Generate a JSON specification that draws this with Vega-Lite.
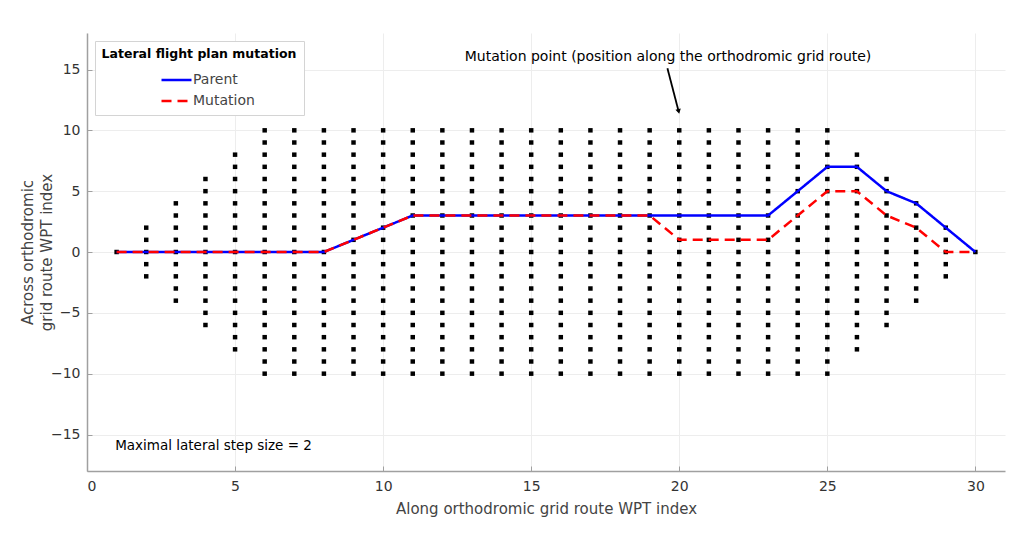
{
  "$schema": "https://vega.github.io/schema/vega-lite/v6.json",
  "width": 918,
  "height": 438,
  "autosize": {"type": "none"},
  "padding": {"left": 87, "top": 33, "right": 7, "bottom": 72},
  "background": "white",
  "config": {
    "view": {"stroke": null},
    "font": "DejaVu Sans",
    "axis": {
      "labelFont": "DejaVu Sans", "titleFont": "DejaVu Sans",
      "labelFontSize": 14, "titleFontSize": 15, "labelColor": "#333333", "titleColor": "#444444",
      "titleFontWeight": "normal", "domainColor": "#a0a0a0", "domainWidth": 1.5,
      "tickColor": "#a0a0a0", "tickSize": -5, "grid": true, "gridColor": "#ededed", "gridWidth": 1
    }
  },
  "datasets": {
    "grid": [
      {"x":1,"y":0},
      {"x":2,"y":-2},{"x":2,"y":-1},{"x":2,"y":0},{"x":2,"y":1},{"x":2,"y":2},
      {"x":3,"y":-4},{"x":3,"y":-3},{"x":3,"y":-2},{"x":3,"y":-1},{"x":3,"y":0},{"x":3,"y":1},{"x":3,"y":2},{"x":3,"y":3},{"x":3,"y":4},
      {"x":4,"y":-6},{"x":4,"y":-5},{"x":4,"y":-4},{"x":4,"y":-3},{"x":4,"y":-2},{"x":4,"y":-1},{"x":4,"y":0},{"x":4,"y":1},{"x":4,"y":2},{"x":4,"y":3},{"x":4,"y":4},{"x":4,"y":5},{"x":4,"y":6},
      {"x":5,"y":-8},{"x":5,"y":-7},{"x":5,"y":-6},{"x":5,"y":-5},{"x":5,"y":-4},{"x":5,"y":-3},{"x":5,"y":-2},{"x":5,"y":-1},{"x":5,"y":0},{"x":5,"y":1},{"x":5,"y":2},{"x":5,"y":3},{"x":5,"y":4},{"x":5,"y":5},{"x":5,"y":6},{"x":5,"y":7},{"x":5,"y":8},
      {"x":6,"y":-10},{"x":6,"y":-9},{"x":6,"y":-8},{"x":6,"y":-7},{"x":6,"y":-6},{"x":6,"y":-5},{"x":6,"y":-4},{"x":6,"y":-3},{"x":6,"y":-2},{"x":6,"y":-1},{"x":6,"y":0},{"x":6,"y":1},{"x":6,"y":2},{"x":6,"y":3},{"x":6,"y":4},{"x":6,"y":5},{"x":6,"y":6},{"x":6,"y":7},{"x":6,"y":8},{"x":6,"y":9},{"x":6,"y":10},
      {"x":7,"y":-10},{"x":7,"y":-9},{"x":7,"y":-8},{"x":7,"y":-7},{"x":7,"y":-6},{"x":7,"y":-5},{"x":7,"y":-4},{"x":7,"y":-3},{"x":7,"y":-2},{"x":7,"y":-1},{"x":7,"y":0},{"x":7,"y":1},{"x":7,"y":2},{"x":7,"y":3},{"x":7,"y":4},{"x":7,"y":5},{"x":7,"y":6},{"x":7,"y":7},{"x":7,"y":8},{"x":7,"y":9},{"x":7,"y":10},
      {"x":8,"y":-10},{"x":8,"y":-9},{"x":8,"y":-8},{"x":8,"y":-7},{"x":8,"y":-6},{"x":8,"y":-5},{"x":8,"y":-4},{"x":8,"y":-3},{"x":8,"y":-2},{"x":8,"y":-1},{"x":8,"y":0},{"x":8,"y":1},{"x":8,"y":2},{"x":8,"y":3},{"x":8,"y":4},{"x":8,"y":5},{"x":8,"y":6},{"x":8,"y":7},{"x":8,"y":8},{"x":8,"y":9},{"x":8,"y":10},
      {"x":9,"y":-10},{"x":9,"y":-9},{"x":9,"y":-8},{"x":9,"y":-7},{"x":9,"y":-6},{"x":9,"y":-5},{"x":9,"y":-4},{"x":9,"y":-3},{"x":9,"y":-2},{"x":9,"y":-1},{"x":9,"y":0},{"x":9,"y":1},{"x":9,"y":2},{"x":9,"y":3},{"x":9,"y":4},{"x":9,"y":5},{"x":9,"y":6},{"x":9,"y":7},{"x":9,"y":8},{"x":9,"y":9},{"x":9,"y":10},
      {"x":10,"y":-10},{"x":10,"y":-9},{"x":10,"y":-8},{"x":10,"y":-7},{"x":10,"y":-6},{"x":10,"y":-5},{"x":10,"y":-4},{"x":10,"y":-3},{"x":10,"y":-2},{"x":10,"y":-1},{"x":10,"y":0},{"x":10,"y":1},{"x":10,"y":2},{"x":10,"y":3},{"x":10,"y":4},{"x":10,"y":5},{"x":10,"y":6},{"x":10,"y":7},{"x":10,"y":8},{"x":10,"y":9},{"x":10,"y":10},
      {"x":11,"y":-10},{"x":11,"y":-9},{"x":11,"y":-8},{"x":11,"y":-7},{"x":11,"y":-6},{"x":11,"y":-5},{"x":11,"y":-4},{"x":11,"y":-3},{"x":11,"y":-2},{"x":11,"y":-1},{"x":11,"y":0},{"x":11,"y":1},{"x":11,"y":2},{"x":11,"y":3},{"x":11,"y":4},{"x":11,"y":5},{"x":11,"y":6},{"x":11,"y":7},{"x":11,"y":8},{"x":11,"y":9},{"x":11,"y":10},
      {"x":12,"y":-10},{"x":12,"y":-9},{"x":12,"y":-8},{"x":12,"y":-7},{"x":12,"y":-6},{"x":12,"y":-5},{"x":12,"y":-4},{"x":12,"y":-3},{"x":12,"y":-2},{"x":12,"y":-1},{"x":12,"y":0},{"x":12,"y":1},{"x":12,"y":2},{"x":12,"y":3},{"x":12,"y":4},{"x":12,"y":5},{"x":12,"y":6},{"x":12,"y":7},{"x":12,"y":8},{"x":12,"y":9},{"x":12,"y":10},
      {"x":13,"y":-10},{"x":13,"y":-9},{"x":13,"y":-8},{"x":13,"y":-7},{"x":13,"y":-6},{"x":13,"y":-5},{"x":13,"y":-4},{"x":13,"y":-3},{"x":13,"y":-2},{"x":13,"y":-1},{"x":13,"y":0},{"x":13,"y":1},{"x":13,"y":2},{"x":13,"y":3},{"x":13,"y":4},{"x":13,"y":5},{"x":13,"y":6},{"x":13,"y":7},{"x":13,"y":8},{"x":13,"y":9},{"x":13,"y":10},
      {"x":14,"y":-10},{"x":14,"y":-9},{"x":14,"y":-8},{"x":14,"y":-7},{"x":14,"y":-6},{"x":14,"y":-5},{"x":14,"y":-4},{"x":14,"y":-3},{"x":14,"y":-2},{"x":14,"y":-1},{"x":14,"y":0},{"x":14,"y":1},{"x":14,"y":2},{"x":14,"y":3},{"x":14,"y":4},{"x":14,"y":5},{"x":14,"y":6},{"x":14,"y":7},{"x":14,"y":8},{"x":14,"y":9},{"x":14,"y":10},
      {"x":15,"y":-10},{"x":15,"y":-9},{"x":15,"y":-8},{"x":15,"y":-7},{"x":15,"y":-6},{"x":15,"y":-5},{"x":15,"y":-4},{"x":15,"y":-3},{"x":15,"y":-2},{"x":15,"y":-1},{"x":15,"y":0},{"x":15,"y":1},{"x":15,"y":2},{"x":15,"y":3},{"x":15,"y":4},{"x":15,"y":5},{"x":15,"y":6},{"x":15,"y":7},{"x":15,"y":8},{"x":15,"y":9},{"x":15,"y":10},
      {"x":16,"y":-10},{"x":16,"y":-9},{"x":16,"y":-8},{"x":16,"y":-7},{"x":16,"y":-6},{"x":16,"y":-5},{"x":16,"y":-4},{"x":16,"y":-3},{"x":16,"y":-2},{"x":16,"y":-1},{"x":16,"y":0},{"x":16,"y":1},{"x":16,"y":2},{"x":16,"y":3},{"x":16,"y":4},{"x":16,"y":5},{"x":16,"y":6},{"x":16,"y":7},{"x":16,"y":8},{"x":16,"y":9},{"x":16,"y":10},
      {"x":17,"y":-10},{"x":17,"y":-9},{"x":17,"y":-8},{"x":17,"y":-7},{"x":17,"y":-6},{"x":17,"y":-5},{"x":17,"y":-4},{"x":17,"y":-3},{"x":17,"y":-2},{"x":17,"y":-1},{"x":17,"y":0},{"x":17,"y":1},{"x":17,"y":2},{"x":17,"y":3},{"x":17,"y":4},{"x":17,"y":5},{"x":17,"y":6},{"x":17,"y":7},{"x":17,"y":8},{"x":17,"y":9},{"x":17,"y":10},
      {"x":18,"y":-10},{"x":18,"y":-9},{"x":18,"y":-8},{"x":18,"y":-7},{"x":18,"y":-6},{"x":18,"y":-5},{"x":18,"y":-4},{"x":18,"y":-3},{"x":18,"y":-2},{"x":18,"y":-1},{"x":18,"y":0},{"x":18,"y":1},{"x":18,"y":2},{"x":18,"y":3},{"x":18,"y":4},{"x":18,"y":5},{"x":18,"y":6},{"x":18,"y":7},{"x":18,"y":8},{"x":18,"y":9},{"x":18,"y":10},
      {"x":19,"y":-10},{"x":19,"y":-9},{"x":19,"y":-8},{"x":19,"y":-7},{"x":19,"y":-6},{"x":19,"y":-5},{"x":19,"y":-4},{"x":19,"y":-3},{"x":19,"y":-2},{"x":19,"y":-1},{"x":19,"y":0},{"x":19,"y":1},{"x":19,"y":2},{"x":19,"y":3},{"x":19,"y":4},{"x":19,"y":5},{"x":19,"y":6},{"x":19,"y":7},{"x":19,"y":8},{"x":19,"y":9},{"x":19,"y":10},
      {"x":20,"y":-10},{"x":20,"y":-9},{"x":20,"y":-8},{"x":20,"y":-7},{"x":20,"y":-6},{"x":20,"y":-5},{"x":20,"y":-4},{"x":20,"y":-3},{"x":20,"y":-2},{"x":20,"y":-1},{"x":20,"y":0},{"x":20,"y":1},{"x":20,"y":2},{"x":20,"y":3},{"x":20,"y":4},{"x":20,"y":5},{"x":20,"y":6},{"x":20,"y":7},{"x":20,"y":8},{"x":20,"y":9},{"x":20,"y":10},
      {"x":21,"y":-10},{"x":21,"y":-9},{"x":21,"y":-8},{"x":21,"y":-7},{"x":21,"y":-6},{"x":21,"y":-5},{"x":21,"y":-4},{"x":21,"y":-3},{"x":21,"y":-2},{"x":21,"y":-1},{"x":21,"y":0},{"x":21,"y":1},{"x":21,"y":2},{"x":21,"y":3},{"x":21,"y":4},{"x":21,"y":5},{"x":21,"y":6},{"x":21,"y":7},{"x":21,"y":8},{"x":21,"y":9},{"x":21,"y":10},
      {"x":22,"y":-10},{"x":22,"y":-9},{"x":22,"y":-8},{"x":22,"y":-7},{"x":22,"y":-6},{"x":22,"y":-5},{"x":22,"y":-4},{"x":22,"y":-3},{"x":22,"y":-2},{"x":22,"y":-1},{"x":22,"y":0},{"x":22,"y":1},{"x":22,"y":2},{"x":22,"y":3},{"x":22,"y":4},{"x":22,"y":5},{"x":22,"y":6},{"x":22,"y":7},{"x":22,"y":8},{"x":22,"y":9},{"x":22,"y":10},
      {"x":23,"y":-10},{"x":23,"y":-9},{"x":23,"y":-8},{"x":23,"y":-7},{"x":23,"y":-6},{"x":23,"y":-5},{"x":23,"y":-4},{"x":23,"y":-3},{"x":23,"y":-2},{"x":23,"y":-1},{"x":23,"y":0},{"x":23,"y":1},{"x":23,"y":2},{"x":23,"y":3},{"x":23,"y":4},{"x":23,"y":5},{"x":23,"y":6},{"x":23,"y":7},{"x":23,"y":8},{"x":23,"y":9},{"x":23,"y":10},
      {"x":24,"y":-10},{"x":24,"y":-9},{"x":24,"y":-8},{"x":24,"y":-7},{"x":24,"y":-6},{"x":24,"y":-5},{"x":24,"y":-4},{"x":24,"y":-3},{"x":24,"y":-2},{"x":24,"y":-1},{"x":24,"y":0},{"x":24,"y":1},{"x":24,"y":2},{"x":24,"y":3},{"x":24,"y":4},{"x":24,"y":5},{"x":24,"y":6},{"x":24,"y":7},{"x":24,"y":8},{"x":24,"y":9},{"x":24,"y":10},
      {"x":25,"y":-10},{"x":25,"y":-9},{"x":25,"y":-8},{"x":25,"y":-7},{"x":25,"y":-6},{"x":25,"y":-5},{"x":25,"y":-4},{"x":25,"y":-3},{"x":25,"y":-2},{"x":25,"y":-1},{"x":25,"y":0},{"x":25,"y":1},{"x":25,"y":2},{"x":25,"y":3},{"x":25,"y":4},{"x":25,"y":5},{"x":25,"y":6},{"x":25,"y":7},{"x":25,"y":8},{"x":25,"y":9},{"x":25,"y":10},
      {"x":26,"y":-8},{"x":26,"y":-7},{"x":26,"y":-6},{"x":26,"y":-5},{"x":26,"y":-4},{"x":26,"y":-3},{"x":26,"y":-2},{"x":26,"y":-1},{"x":26,"y":0},{"x":26,"y":1},{"x":26,"y":2},{"x":26,"y":3},{"x":26,"y":4},{"x":26,"y":5},{"x":26,"y":6},{"x":26,"y":7},{"x":26,"y":8},
      {"x":27,"y":-6},{"x":27,"y":-5},{"x":27,"y":-4},{"x":27,"y":-3},{"x":27,"y":-2},{"x":27,"y":-1},{"x":27,"y":0},{"x":27,"y":1},{"x":27,"y":2},{"x":27,"y":3},{"x":27,"y":4},{"x":27,"y":5},{"x":27,"y":6},
      {"x":28,"y":-4},{"x":28,"y":-3},{"x":28,"y":-2},{"x":28,"y":-1},{"x":28,"y":0},{"x":28,"y":1},{"x":28,"y":2},{"x":28,"y":3},{"x":28,"y":4},
      {"x":29,"y":-2},{"x":29,"y":-1},{"x":29,"y":0},{"x":29,"y":1},{"x":29,"y":2},
      {"x":30,"y":0}
    ],
    "routes": [
      {"x":1,"y":0,"route":"Parent"},{"x":2,"y":0,"route":"Parent"},{"x":3,"y":0,"route":"Parent"},{"x":4,"y":0,"route":"Parent"},{"x":5,"y":0,"route":"Parent"},{"x":6,"y":0,"route":"Parent"},{"x":7,"y":0,"route":"Parent"},{"x":8,"y":0,"route":"Parent"},{"x":9,"y":1,"route":"Parent"},{"x":10,"y":2,"route":"Parent"},{"x":11,"y":3,"route":"Parent"},{"x":12,"y":3,"route":"Parent"},{"x":13,"y":3,"route":"Parent"},{"x":14,"y":3,"route":"Parent"},{"x":15,"y":3,"route":"Parent"},{"x":16,"y":3,"route":"Parent"},{"x":17,"y":3,"route":"Parent"},{"x":18,"y":3,"route":"Parent"},{"x":19,"y":3,"route":"Parent"},{"x":20,"y":3,"route":"Parent"},{"x":21,"y":3,"route":"Parent"},{"x":22,"y":3,"route":"Parent"},{"x":23,"y":3,"route":"Parent"},{"x":24,"y":5,"route":"Parent"},{"x":25,"y":7,"route":"Parent"},{"x":26,"y":7,"route":"Parent"},{"x":27,"y":5,"route":"Parent"},{"x":28,"y":4,"route":"Parent"},{"x":29,"y":2,"route":"Parent"},{"x":30,"y":0,"route":"Parent"},
      {"x":1,"y":0,"route":"Mutation"},{"x":2,"y":0,"route":"Mutation"},{"x":3,"y":0,"route":"Mutation"},{"x":4,"y":0,"route":"Mutation"},{"x":5,"y":0,"route":"Mutation"},{"x":6,"y":0,"route":"Mutation"},{"x":7,"y":0,"route":"Mutation"},{"x":8,"y":0,"route":"Mutation"},{"x":9,"y":1,"route":"Mutation"},{"x":10,"y":2,"route":"Mutation"},{"x":11,"y":3,"route":"Mutation"},{"x":12,"y":3,"route":"Mutation"},{"x":13,"y":3,"route":"Mutation"},{"x":14,"y":3,"route":"Mutation"},{"x":15,"y":3,"route":"Mutation"},{"x":16,"y":3,"route":"Mutation"},{"x":17,"y":3,"route":"Mutation"},{"x":18,"y":3,"route":"Mutation"},{"x":19,"y":3,"route":"Mutation"},{"x":20,"y":1,"route":"Mutation"},{"x":21,"y":1,"route":"Mutation"},{"x":22,"y":1,"route":"Mutation"},{"x":23,"y":1,"route":"Mutation"},{"x":24,"y":3,"route":"Mutation"},{"x":25,"y":5,"route":"Mutation"},{"x":26,"y":5,"route":"Mutation"},{"x":27,"y":3,"route":"Mutation"},{"x":28,"y":2,"route":"Mutation"},{"x":29,"y":0,"route":"Mutation"},{"x":30,"y":0,"route":"Mutation"}
    ],
    "notes": [
      {"label": "Mutation point (position along the orthodromic grid route)", "x": 19.62, "y": 16.0, "kind": "pointer"},
      {"label": "Maximal lateral step size = 2", "x": 0.95, "y": -15.94, "kind": "caption"}
    ],
    "arrow": [
      {"x": 19.6, "y": 15.1, "x2": 19.98, "y2": 11.55}
    ]
  },
  "encoding": {
    "x": {"field": "x", "type": "quantitative", "scale": {"domain": [0, 31], "nice": false, "zero": false},
      "axis": {"values": [0, 5, 10, 15, 20, 25, 30], "title": "Along orthodromic grid route WPT index", "titlePadding": 8, "labelPadding": 13}},
    "y": {"field": "y", "type": "quantitative", "scale": {"domain": [-18, 18], "nice": false, "zero": false},
      "axis": {"values": [-15, -10, -5, 0, 5, 10, 15], "title": ["Across orthodromic", "grid route WPT index"], "titlePadding": -4, "labelPadding": 12, "titleLineHeight": 19}}
  },
  "layer": [
    {
      "data": {"name": "grid"},
      "mark": {"type": "point", "shape": "square", "filled": true, "color": "black", "size": 20, "opacity": 1}
    },
    {
      "data": {"name": "routes"},
      "transform": [{"filter": "datum.route === 'Parent'"}],
      "mark": {"type": "line", "strokeWidth": 2.5},
      "encoding": {
        "stroke": {"field": "route", "type": "nominal",
          "scale": {"domain": ["Parent", "Mutation"], "range": ["#0000ff", "#ff0000"]},
          "legend": {"title": "Lateral flight plan mutation", "orient": "none", "legendX": 8, "legendY": 8,
            "strokeColor": "#d4d4d4", "fillColor": "white", "padding": 7,
            "titleFont": "DejaVu Sans", "titleFontWeight": "bold", "titleFontSize": 12.5, "titleColor": "black", "titleAnchor": "middle", "titlePadding": 8, "titleLimit": 400,
            "labelFont": "DejaVu Sans", "labelFontSize": 14, "labelColor": "#444444", "symbolType": "M-1.5,0L1.5,0", "symbolSize": 400, "symbolStrokeWidth": 2.5,
            "symbolOffset": 22, "rowPadding": 2, "labelOffset": 5}},
        "strokeDash": {"field": "route", "type": "nominal",
          "scale": {"domain": ["Parent", "Mutation"], "range": [[1, 0], [10, 6]]},
          "legend": {"title": "Lateral flight plan mutation"}}
      }
    },
    {
      "data": {"name": "routes"},
      "transform": [{"filter": "datum.route === 'Mutation'"}],
      "mark": {"type": "line", "strokeWidth": 2.5},
      "encoding": {
        "stroke": {"field": "route", "type": "nominal"},
        "strokeDash": {"field": "route", "type": "nominal"}
      }
    },
    {
      "data": {"name": "notes"},
      "transform": [{"filter": "datum.kind === 'pointer'"}],
      "mark": {"type": "text", "align": "center", "baseline": "middle", "fontSize": 14, "color": "black", "font": "DejaVu Sans"},
      "encoding": {"text": {"field": "label"}}
    },
    {
      "data": {"name": "notes"},
      "transform": [{"filter": "datum.kind === 'caption'"}],
      "mark": {"type": "text", "align": "left", "baseline": "middle", "fontSize": 13.5, "color": "black", "font": "DejaVu Sans"},
      "encoding": {"text": {"field": "label"}}
    },
    {
      "data": {"name": "arrow"},
      "mark": {"type": "rule", "color": "black", "strokeWidth": 1.8},
      "encoding": {"x2": {"field": "x2"}, "y2": {"field": "y2"}}
    },
    {
      "data": {"name": "arrow"},
      "mark": {"type": "point", "shape": "triangle-up", "filled": true, "color": "black", "size": 30, "angle": 166, "opacity": 1},
      "encoding": {"x": {"field": "x2", "type": "quantitative"}, "y": {"field": "y2", "type": "quantitative"}}
    }
  ]
}
